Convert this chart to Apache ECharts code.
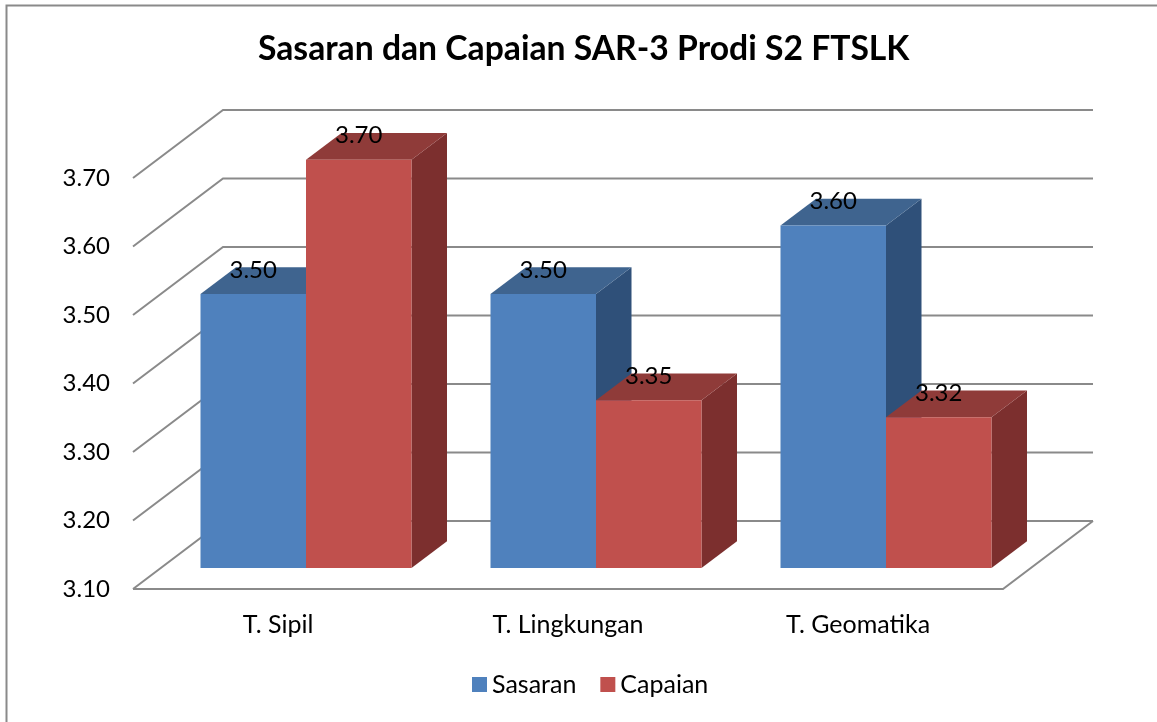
<!DOCTYPE html>
<html>
<head>
<meta charset="utf-8">
<style>html,body{margin:0;padding:0;background:#fff}#c{width:1157px;height:722px}</style>
<script src="https://cdn.jsdelivr.net/npm/echarts@6/dist/echarts.min.js"></script>
</head>
<body>
<div id="c"></div>
<script>
const titleText = 'Sasaran dan Capaian SAR-3 Prodi S2 FTSLK';
const categories = ['T. Sipil', 'T. Lingkungan', 'T. Geomatika'];
const sasaran = [3.50, 3.50, 3.60];
// Bar heights read slightly below the printed 3.70 and 3.35; the labels round to those.
const capaian = [3.696, 3.345, 3.32];
const gridTicks = [3.10, 3.20, 3.30, 3.40, 3.50, 3.60, 3.70];
const FONT = 'Lato';

const WALL = [90, -68];      // back wall offset
const FRONT = [28, -21];     // bar front-face offset
const DEPTH = [35.5, -26.7]; // bar depth
const BAR_W = 105.5;
const GRID_C = '#8a8a8a';

function wallItem(params, api) {
  const v = api.value(0);
  const cs = params.coordSys;
  const y = api.coord([0, v])[1];
  const l = cs.x, r = cs.x + cs.width;
  const st = { stroke: GRID_C, lineWidth: 2, fill: null };
  const kids = [{
    type: 'polyline',
    shape: { points: [[l, y], [l + WALL[0], y + WALL[1]], [r + WALL[0], y + WALL[1]]] },
    style: st
  }];
  if (v === gridTicks[0]) {
    kids.push({
      type: 'polyline',
      shape: { points: [[l, y], [r, y], [r + WALL[0], y + WALL[1]]] },
      style: st
    });
  }
  return { type: 'group', children: kids };
}

function barRender(side, colors) {
  return function (params, api) {
    const cat = api.value(0), v = api.value(1);
    const base = api.coord([cat, gridTicks[0]]);
    const top = api.coord([cat, v]);
    const cx = base[0] + FRONT[0];
    const x0 = side === 0 ? cx - BAR_W : cx;
    const x1 = x0 + BAR_W;
    const yb = base[1] + FRONT[1];
    const yt = top[1] + FRONT[1];
    const dx = DEPTH[0], dy = DEPTH[1];
    return {
      type: 'group',
      children: [
        { type: 'polygon', shape: { points: [[x1, yt], [x1 + dx, yt + dy], [x1 + dx, yb + dy], [x1, yb]] }, style: { fill: colors.side } },
        { type: 'polygon', shape: { points: [[x0, yt], [x0 + dx, yt + dy], [x1 + dx, yt + dy], [x1, yt]] }, style: { fill: colors.top } },
        { type: 'rect', shape: { x: x0, y: yt, width: BAR_W, height: yb - yt }, style: { fill: colors.front } },
        { type: 'text', z2: 100, style: { x: (x0 + x1) / 2, y: yt - 24, text: (v + 1e-9).toFixed(2), fill: '#000', font: '24px ' + FONT, textAlign: 'center', textVerticalAlign: 'middle' } }
      ]
    };
  };
}

const chart = echarts.init(document.getElementById('c'), null, { renderer: 'canvas' });
chart.setOption({
  animation: false,
  backgroundColor: '#fff',
  title: {
    text: titleText, left: 253, top: 27,
    textStyle: { fontFamily: FONT, fontSize: 33.7, fontWeight: 'bold', color: '#000' }
  },
  legend: {
    data: ['Sasaran', 'Capaian'], left: 467, top: 667, icon: 'rect',
    itemWidth: 15, itemHeight: 15, itemGap: 24,
    textStyle: { fontFamily: FONT, fontSize: 25, color: '#000' }
  },
  grid: { left: 133, right: 154, top: 178, bottom: 133, containLabel: false },
  xAxis: {
    type: 'category', data: categories,
    axisLine: { show: false }, axisTick: { show: false },
    axisLabel: { margin: 23, fontFamily: FONT, fontSize: 25, color: '#000' }
  },
  yAxis: {
    type: 'value', min: gridTicks[0], max: gridTicks[gridTicks.length - 1], interval: 0.1,
    axisLine: { show: false }, axisTick: { show: false }, splitLine: { show: false },
    axisLabel: { margin: 23, fontFamily: FONT, fontSize: 24, color: '#000', padding: [10, 0, 0, 0], formatter: v => v.toFixed(2) }
  },
  graphic: [
    { type: 'polyline', silent: true, shape: { points: [[6.5, 722], [6.5, 5.5], [1157, 5.5]] }, style: { stroke: '#8a8a8a', lineWidth: 2, fill: null } }
  ],
  series: [
    { type: 'custom', name: 'walls', z: 1, silent: true, data: gridTicks.map(v => [v]), encode: { y: 0 }, renderItem: wallItem },
    { type: 'custom', name: 'Sasaran', z: 2, silent: true, itemStyle: { color: '#4F81BD' },
      data: sasaran.map((v, i) => [i, v]), encode: { x: 0, y: 1 },
      renderItem: barRender(0, { front: '#4F81BD', top: '#3F648F', side: '#2F5079' }) },
    { type: 'custom', name: 'Capaian', z: 3, silent: true, itemStyle: { color: '#C0504D' },
      data: capaian.map((v, i) => [i, v]), encode: { x: 0, y: 1 },
      renderItem: barRender(1, { front: '#C0504D', top: '#8F3B39', side: '#7C2F2E' }) }
  ]
});
</script>
</body>
</html>
